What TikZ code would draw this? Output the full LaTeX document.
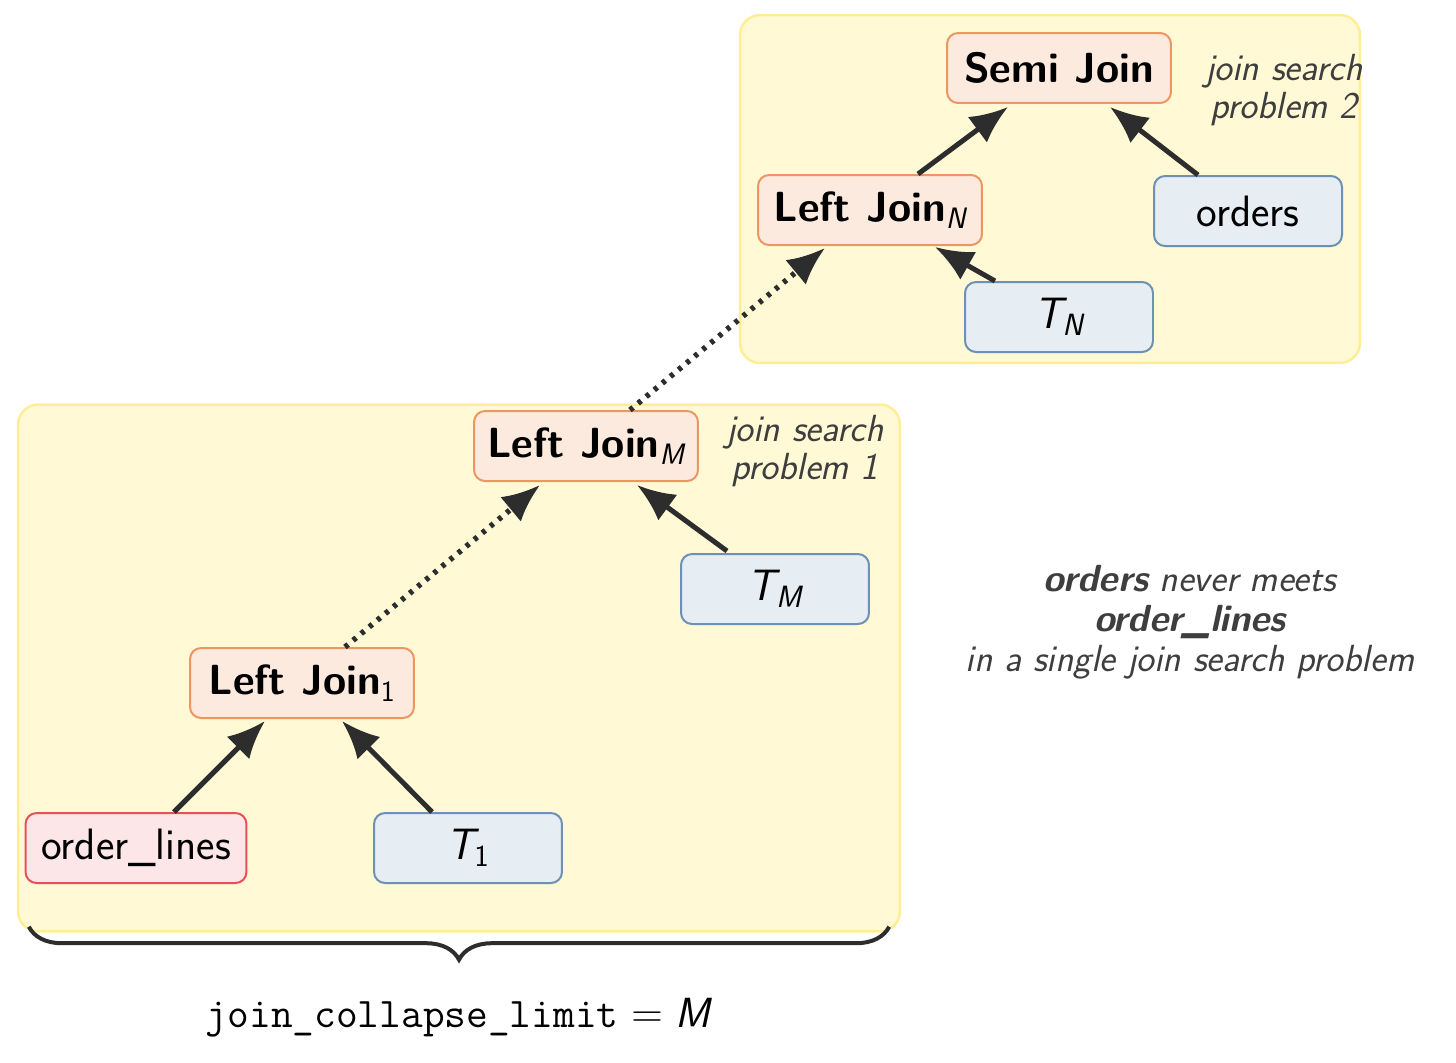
\documentclass[tikz,border=0pt]{standalone}
\usepackage{amsmath}
\usepackage{xcolor}
\usetikzlibrary{arrows.meta,positioning,calc,decorations.pathreplacing}
\definecolor{regionfill}{RGB}{255,249,214}
\definecolor{regionline}{RGB}{255,238,150}
\definecolor{joinfill}{RGB}{252,234,222}
\definecolor{joinline}{RGB}{236,150,98}
\definecolor{tblfill}{RGB}{230,237,243}
\definecolor{tblline}{RGB}{110,144,180}
\definecolor{relfill}{RGB}{253,230,232}
\definecolor{relline}{RGB}{232,80,88}
\definecolor{arrowgray}{RGB}{45,45,45}
\definecolor{notegray}{RGB}{62,62,62}
\newcommand{\tsub}[1]{\textsubscript{\normalfont\sffamily\itshape #1}}

\begin{document}
\begin{tikzpicture}[x=0.02cm, y=-0.02cm,
  region/.style={rectangle, draw=regionline, fill=regionfill, line width=0.05cm,
                 rounded corners=0.4cm, inner sep=0pt},
  joinbox/.style={rectangle, draw=joinline, fill=joinfill, line width=0.04cm,
                  rounded corners=0.22cm, minimum width=4.48cm, minimum height=1.4cm,
                  font=\fontsize{24}{28}\selectfont\sffamily\bfseries},
  tblbox/.style={rectangle, draw=tblline, fill=tblfill, line width=0.04cm,
                 rounded corners=0.22cm, minimum width=3.76cm, minimum height=1.4cm,
                 font=\fontsize{25}{29}\selectfont\sffamily},
  relbox/.style={tblbox, draw=relline, fill=relfill, minimum width=4.42cm},
  note/.style={font=\fontsize{21.5}{22}\selectfont\sffamily\itshape, text=notegray, align=center},
  arr/.style={-{Latex[length=0.76cm, width=0.64cm]}, line width=0.1cm, draw=arrowgray},
  dotarr/.style={arr, line width=0.11cm, dash pattern=on 0.08cm off 0.13cm}
]
  \useasboundingbox (0,0) rectangle (1456,1062);

  % join search problems
  \node[region, minimum width=12.4cm, minimum height=6.96cm] (reg2) at (1050,189) {};
  \node[region, minimum width=17.64cm, minimum height=10.54cm] (reg1) at (459,668) {};

  % problem 2
  \node[joinbox] (semi) at (1059,68) {Semi Join};
  \node[joinbox] (ljn) at (870,210) {Left Join\tsub{N}};
  \node[tblbox] (orders) at (1248,211) {orders};
  \node[tblbox] (tn) at (1059,317) {\itshape T\tsub{N}};
  \node[note] (p2) at (1284,90) {join search\\problem 2};

  % problem 1
  \node[joinbox] (ljm) at (586,446) {Left Join\tsub{M}};
  \node[tblbox] (tm) at (775,589) {\itshape T\tsub{M}};
  \node[joinbox] (lj1) at (302,683) {Left Join\textsubscript{\normalfont\sffamily 1}};
  \node[relbox] (ol) at (136,848) {order\_lines};
  \node[tblbox] (t1) at (468,848) {{\itshape T}\textsubscript{1}};
  \node[note] (p1) at (805,451) {join search\\problem 1};

  \draw[arr] ($(ljn.north)+(48,0)$) -- ($(semi.south)+(-51,3)$);
  \draw[arr] ($(orders.north)+(-50,0)$) -- ($(semi.south)+(51,3)$);
  \draw[arr] ($(tn.north)+(-64,0)$) -- ($(ljn.south)+(65,1)$);
  \draw[dotarr] ($(ljm.north)+(44,0)$) -- ($(ljn.south)+(-45,2)$);
  \draw[arr] ($(tm.north)+(-48,-2)$) -- ($(ljm.south)+(51,3)$);
  \draw[dotarr] ($(lj1.north)+(43,0)$) -- ($(ljm.south)+(-46,3)$);
  \draw[arr] ($(ol.north)+(38,0)$) -- ($(lj1.south)+(-37,2)$);
  \draw[arr] ($(t1.north)+(-36,0)$) -- ($(lj1.south)+(40,2)$);

  % brace and limit
  \coordinate (bl) at ($(reg1.south west)+(12,-6)$);
  \coordinate (br) at ($(reg1.south east)+(-12,-6)$);
  \draw[arrowgray, line width=0.08cm, decorate,
        decoration={brace, mirror, amplitude=0.66cm}] (bl) -- (br);
  \node[font=\fontsize{24}{28}\selectfont] (limit) at (458,1018)
    {\texttt{join\_collapse\_limit} $=$ {\sffamily\itshape M}};

  \node[note, font=\fontsize{21.5}{22.7}\selectfont\sffamily\itshape] (remark) at (1190,622)
    {{\bfseries orders} never meets\\{\bfseries order\_lines}\\in a single join search problem};
\end{tikzpicture}
\end{document}
